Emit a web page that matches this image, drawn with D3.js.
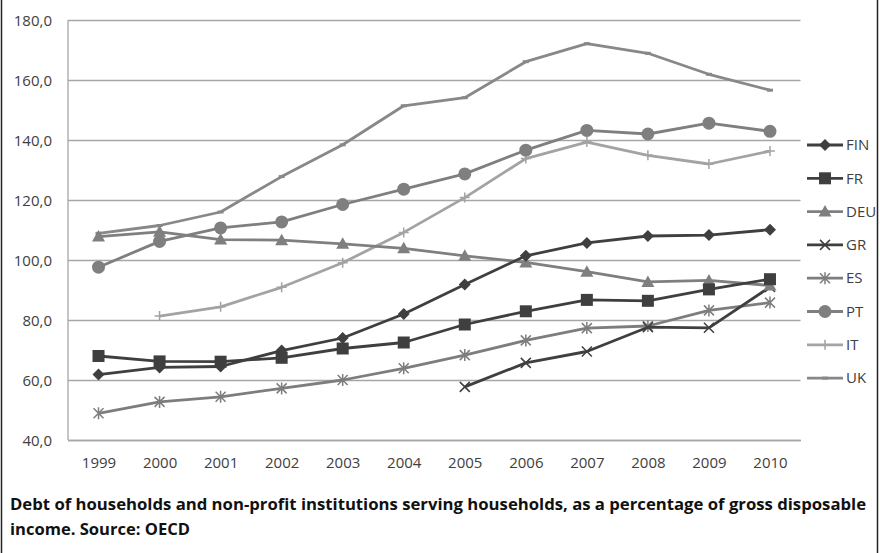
<!DOCTYPE html>
<html><head><meta charset="utf-8">
<script src="https://cdn.jsdelivr.net/npm/d3@7"></script>
<style>
body{margin:0;background:#fff;}
text{font-family:"Open Sans",Arial,sans-serif;}
</style></head>
<body><svg id="c" width="880" height="553"></svg>
<script>
const years = ["1999","2000","2001","2002","2003","2004","2005","2006","2007","2008","2009","2010"];
const FIN = [61.8,64.2,64.5,69.8,74.0,82.0,91.8,101.4,105.7,108.0,108.3,110.1];
const FR  = [68.0,66.2,66.1,67.4,70.5,72.5,78.5,82.9,86.7,86.4,90.2,93.6];
const DEU = [107.8,109.4,106.8,106.6,105.4,103.9,101.4,99.2,96.1,92.7,93.2,91.5];
const GR  = [null,null,null,null,null,null,57.7,65.7,69.5,77.6,77.4,91.0];
const ES  = [48.9,52.7,54.4,57.2,60.0,63.9,68.3,73.2,77.3,78.0,83.2,85.8];
const PT  = [97.6,106.2,110.7,112.7,118.5,123.6,128.7,136.6,143.2,142.0,145.6,142.9];
const IT  = [null,81.3,84.4,90.9,99.1,109.2,120.8,133.8,139.3,134.9,132.0,136.3];
const UK  = [108.9,111.5,116.0,127.8,138.4,151.4,154.1,166.1,172.1,168.9,161.9,156.6];
const seriesNames = ["FIN","FR","DEU","GR","ES","PT","IT","UK"];
const yTicks = [40,60,80,100,120,140,160,180];
const caption = ["Debt of households and non-profit institutions serving households, as a percentage of gross disposable","income. Source: OECD"];

const data = {FIN,FR,DEU,GR,ES,PT,IT,UK};
const colors = {FIN:"#3f3f3f",FR:"#3f3f3f",DEU:"#7f7f7f",GR:"#3f3f3f",ES:"#7d7d7d",PT:"#7f7f7f",IT:"#a3a3a3",UK:"#888888"};
const markers = {FIN:"diamond",FR:"square",DEU:"triangle",GR:"x",ES:"asterisk",PT:"circle",IT:"plus",UK:"dash"};

const svg = d3.select("#c");
const L=68,R=800.5,T=20,B=440;
const x = d3.scalePoint().domain(years).range([L,R]).padding(0.5);
const y = d3.scaleLinear().domain([40,180]).range([B,T]);

svg.append("line").attr("x1",1.5).attr("x2",1.5).attr("y1",0).attr("y2",553).attr("stroke","#222").attr("stroke-width",1.5);
svg.append("line").attr("x1",877.5).attr("x2",877.5).attr("y1",0).attr("y2",553).attr("stroke","#222").attr("stroke-width",1.5);

const yAxis = d3.axisLeft(y).tickValues(yTicks).tickSize(-(R-L)).tickFormat(d=>d3.format(".1f")(d).replace(".",","));
const gy = svg.append("g").attr("transform",`translate(${L},0)`).call(yAxis);
gy.select(".domain").remove();
gy.selectAll(".tick line").attr("stroke","#a6a6a6").attr("stroke-width",1.3);
gy.selectAll(".tick text").attr("x",-16).attr("fill","#404040").style("font-size","15px").attr("dy","0.35em");

svg.append("line").attr("x1",L).attr("x2",L).attr("y1",T).attr("y2",B).attr("stroke","#a6a6a6").attr("stroke-width",1.3);

const xAxis = d3.axisBottom(x).tickSize(0);
const gx = svg.append("g").attr("transform",`translate(0,${B})`).call(xAxis);
gx.select(".domain").attr("stroke","#a6a6a6").attr("stroke-width",1.3);
gx.selectAll(".tick text").attr("y",17).attr("fill","#404040").style("font-size","15px");

function drawMarker(g, type, cx, cy, col){
  const s = g.append("g").attr("transform",`translate(${cx},${cy})`);
  if(type==="diamond") s.append("path").attr("d","M0,-6L6,0L0,6L-6,0Z").attr("fill",col);
  else if(type==="square") s.append("rect").attr("x",-6).attr("y",-6).attr("width",12).attr("height",12).attr("fill",col);
  else if(type==="triangle") s.append("path").attr("d","M0,-6.5L6.5,5L-6.5,5Z").attr("fill",col);
  else if(type==="circle") s.append("circle").attr("r",6.5).attr("fill",col);
  else if(type==="x") s.append("path").attr("d","M-5,-5L5,5M-5,5L5,-5").attr("stroke",col).attr("stroke-width",1.5);
  else if(type==="asterisk") s.append("path").attr("d","M-5,-5L5,5M-5,5L5,-5M0,-6L0,6").attr("stroke",col).attr("stroke-width",1.5);
  else if(type==="plus") s.append("path").attr("d","M-5,0L5,0M0,-5L0,5").attr("stroke",col).attr("stroke-width",1.5);
  else if(type==="dash") s.append("path").attr("d","M-3,0L3,0").attr("stroke",col).attr("stroke-width",3);
}

const line = d3.line().defined(d=>d.v!=null).x(d=>x(d.yr)).y(d=>y(d.v));
const drawOrder = ["UK","IT","PT","ES","GR","DEU","FR","FIN"];
drawOrder.forEach(n=>{
  const pts = years.map((yr,i)=>({yr,v:data[n][i]}));
  const g = svg.append("g");
  g.append("path").datum(pts).attr("d",line).attr("fill","none").attr("stroke",colors[n]).attr("stroke-width",2.8).attr("stroke-linejoin","round");
  pts.filter(p=>p.v!=null).forEach(p=>drawMarker(g,markers[n],x(p.yr),y(p.v),colors[n]));
});

const lg = svg.append("g");
seriesNames.forEach((n,i)=>{
  const ly = 145 + i*33.3;
  lg.append("line").attr("x1",807).attr("x2",843).attr("y1",ly).attr("y2",ly).attr("stroke",colors[n]).attr("stroke-width",2.8);
  drawMarker(lg,markers[n],825,ly,colors[n]);
  lg.append("text").attr("x",846).attr("y",ly).attr("dy","0.35em").attr("fill","#404040").style("font-size","15px").text(n);
});

const capLen = [856,180];
caption.forEach((t,i)=>{
  svg.append("text").attr("x",10).attr("y",510+i*25).attr("fill","#111").style("font-size","16px").style("font-weight","bold")
    .attr("textLength",capLen[i]).attr("lengthAdjust","spacingAndGlyphs").text(t);
});
</script></body></html>
